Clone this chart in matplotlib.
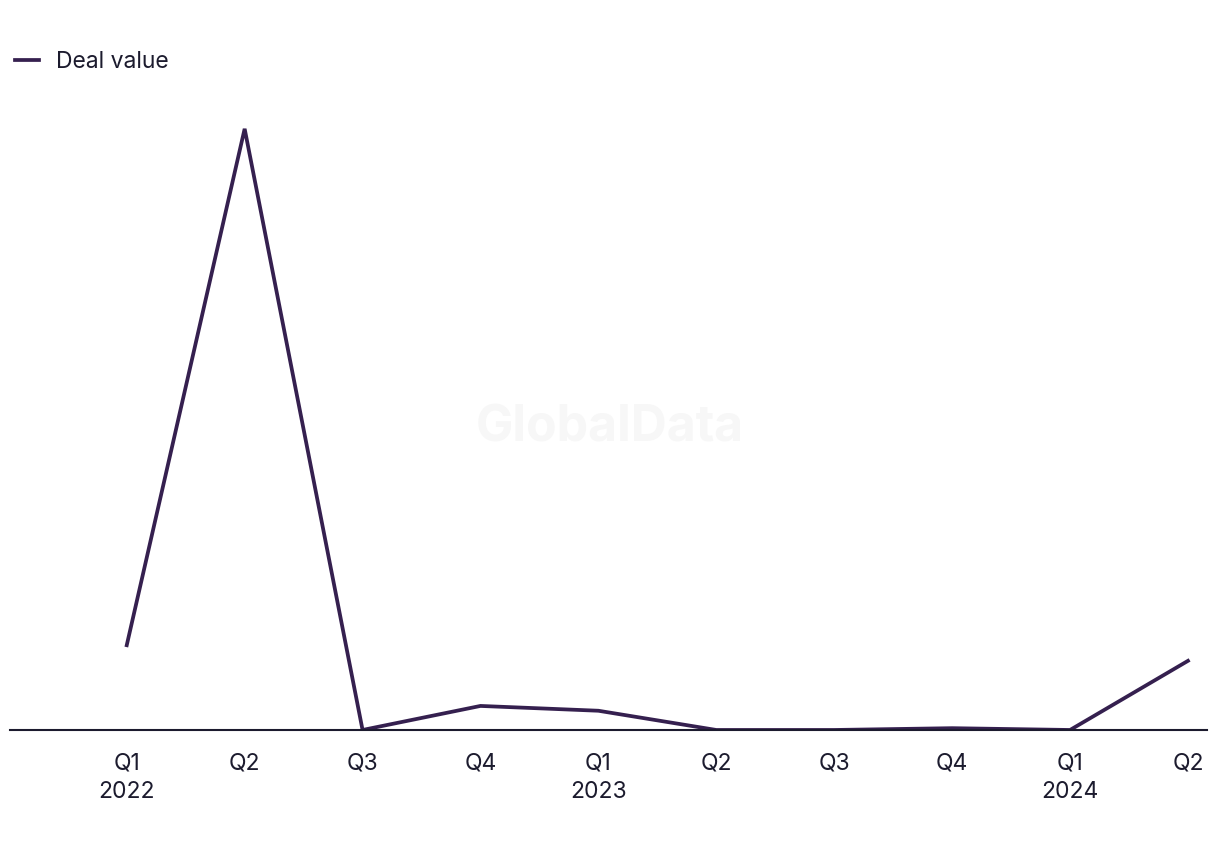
import matplotlib.pyplot as plt

quarters = ['Q1\n2022', 'Q2', 'Q3', 'Q4', 'Q1\n2023', 'Q2', 'Q3', 'Q4', 'Q1\n2024', 'Q2']
deal_value = [141, 1000, 0, 40, 32, 0, 0, 3, 0, 115]

line_color = '#35204f'
text_color = '#1c1b2e'

plt.rcParams['font.family'] = ['Inter', 'DejaVu Sans']

fig = plt.figure(figsize=(12.2, 8.5), dpi=100)
ax = fig.add_axes([0.0082, 0.1412, 0.981, 0.7412])

x = list(range(len(quarters)))
ax.plot(x, deal_value, color=line_color, linewidth=2.7, label='Deal value',
        solid_joinstyle='miter')

ax.set_xlim(-0.99, 9.16)
ax.set_ylim(0, 1048)

for s in ['top', 'right', 'left']:
    ax.spines[s].set_visible(False)
ax.spines['bottom'].set_color(text_color)
ax.spines['bottom'].set_linewidth(1.5)
ax.set_yticks([])
ax.set_xticks(x)
ax.set_xticklabels(quarters, fontsize=16.5, color=text_color, linespacing=1.38)
ax.tick_params(axis='x', length=0, pad=16)

# watermark
fig.text(0.5, 0.497, 'GlobalData', fontsize=36, fontweight='bold',
         color='#f7f7f7', ha='center', va='center', zorder=0)

fig.legend(loc='center left', bbox_to_anchor=(0.0, 0.927), frameon=False,
           fontsize=16.5, labelcolor=text_color, handlelength=1.05,
           handletextpad=0.75, borderaxespad=0.25)

fig.savefig('out.png', dpi=100)
